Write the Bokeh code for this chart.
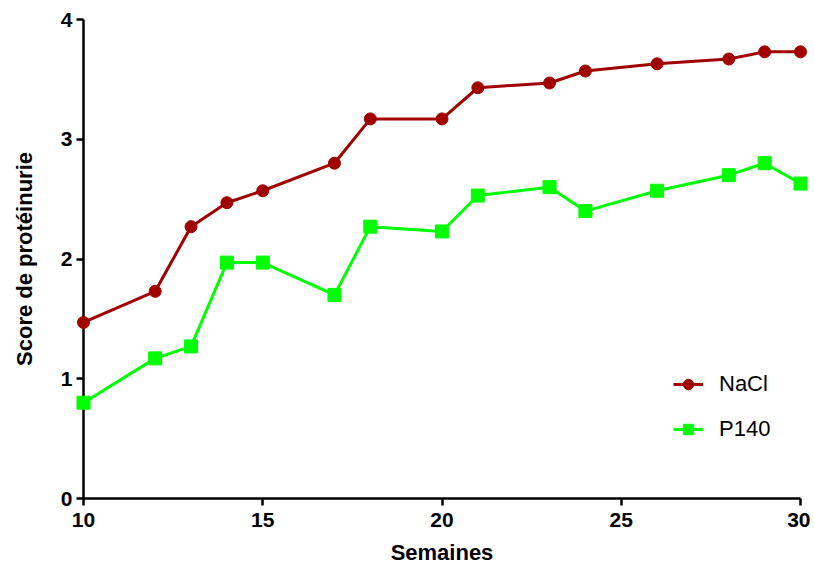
from bokeh.plotting import figure
from bokeh.models import Range1d, Legend, LegendItem, FixedTicker
from bokeh.embed import file_html
from bokeh.resources import INLINE

weeks = [10, 12, 13, 14, 15, 17, 18, 20, 21, 23, 24, 26, 28, 29, 30]
nacl = [1.47, 1.73, 2.27, 2.47, 2.57, 2.80, 3.17, 3.17, 3.43, 3.47, 3.57, 3.63, 3.67, 3.73, 3.73]
p140 = [0.80, 1.17, 1.27, 1.97, 1.97, 1.70, 2.27, 2.23, 2.53, 2.60, 2.40, 2.57, 2.70, 2.80, 2.63]
x_ticks = [10, 15, 20, 25, 30]
y_ticks = [0, 1, 2, 3, 4]

FONT = "Liberation Sans"
RED = "#a00000"
GREEN = "#00ff00"

p = figure(width=810, height=567, output_backend="svg", toolbar_location=None,
           x_range=Range1d(10, 30), y_range=Range1d(0, 4),
           min_border_left=83, min_border_right=10, min_border_top=19, min_border_bottom=69)
p.outline_line_color = None
p.grid.grid_line_color = None
p.background_fill_color = "white"
p.border_fill_color = "white"

for ax in (p.xaxis[0], p.yaxis[0]):
    ax.axis_line_width = 2.5
    ax.axis_line_color = "black"
    ax.major_tick_line_width = 2.5
    ax.major_tick_line_color = "black"
    ax.major_tick_out = 7
    ax.major_tick_in = 0
    ax.minor_tick_line_color = None
    ax.major_label_text_font = FONT
    ax.major_label_text_font_style = "bold"
    ax.major_label_text_font_size = "21px"
    ax.major_label_text_color = "black"
    ax.axis_label_text_font = FONT
    ax.axis_label_text_font_style = "bold"
    ax.axis_label_text_font_size = "22px"
    ax.axis_label_text_color = "black"

p.xaxis.ticker = FixedTicker(ticks=x_ticks)
p.yaxis.ticker = FixedTicker(ticks=y_ticks)
p.xaxis.axis_label = "Semaines"
p.yaxis.axis_label = "Score de protéinurie"
p.xaxis.major_label_standoff = 7
p.yaxis.major_label_standoff = 4
p.xaxis.axis_label_standoff = 10
p.yaxis.axis_label_standoff = 21

l1 = p.line(weeks, nacl, line_color=RED, line_width=3, level="overlay")
m1 = p.scatter(weeks, nacl, marker="circle", size=12, fill_color=RED, line_color=RED, level="overlay")
l2 = p.line(weeks, p140, line_color=GREEN, line_width=3, level="overlay")
m2 = p.scatter(weeks, p140, marker="square", size=13, fill_color=GREEN, line_color=GREEN, level="overlay")

legend = Legend(items=[LegendItem(label="NaCl", renderers=[l1, m1]),
                       LegendItem(label="P140", renderers=[l2, m2])],
                location=(590, 56), border_line_color=None, background_fill_alpha=0,
                padding=0, margin=0, spacing=19, glyph_width=30, glyph_height=26,
                label_text_font=FONT, label_text_font_size="22px", label_standoff=16,
                label_text_color="black")
p.add_layout(legend)

open("out.html", "w").write(file_html(p, INLINE))
